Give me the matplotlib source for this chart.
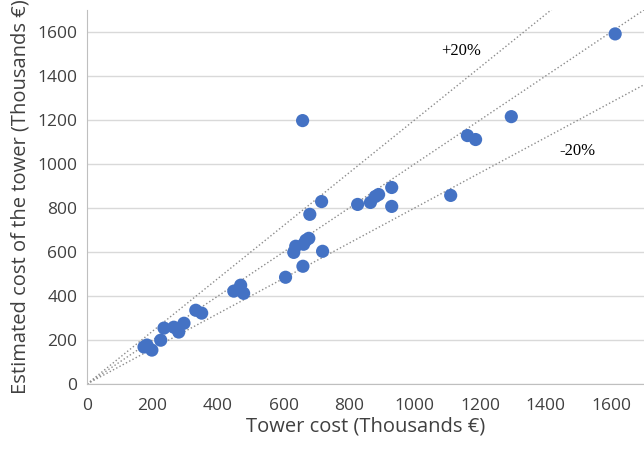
import matplotlib.pyplot as plt
import numpy as np

# Tower cost vs estimated cost (thousands of euros)
real = [174, 183, 198, 225, 235, 265, 280, 296, 332, 350, 448, 469, 478,
        606, 631, 637, 661, 668, 677, 659, 719, 680, 716, 826, 865, 880,
        890, 930, 930, 1110, 1161, 1186, 1295, 1612, 658]
estimated = [168, 177, 154, 199, 254, 258, 236, 276, 335, 322, 422, 449, 412,
             485, 598, 626, 635, 653, 662, 535, 603, 771, 829, 816, 825, 852,
             861, 893, 807, 857, 1129, 1111, 1215, 1591, 1197]
band_factors = [1.2, 1.0, 0.8]
xticks = np.arange(0, 1601, 200)
yticks = np.arange(0, 1601, 200)

font = 'Open Sans'
txt = '#404040'

fig = plt.figure(figsize=(6.44, 4.51), dpi=100)
ax = fig.add_axes([0.1351, 0.1486, 0.8649, 0.8294])
ax.set_xlim(0, 1700)
ax.set_ylim(0, 1700)

xl = np.array([0, 1700])
for f in band_factors:
    ax.plot(xl, f * xl, color='#8c8c8c', linestyle=':', linewidth=1.0, zorder=2)

ax.scatter(real, estimated, s=90, color='#4472C4', edgecolors='none', zorder=3)

ax.set_xticks(xticks)
ax.set_yticks(yticks)
ax.yaxis.grid(True, color='#d9d9d9', linewidth=1.0)
ax.set_axisbelow(True)
for s in ['top', 'right']:
    ax.spines[s].set_visible(False)
for s in ['left', 'bottom']:
    ax.spines[s].set_color('#bfbfbf')
ax.tick_params(length=0, labelsize=12.5, colors=txt)
ax.tick_params(axis='x', pad=10)
ax.tick_params(axis='y', pad=7)
for lab in ax.get_xticklabels() + ax.get_yticklabels():
    lab.set_fontname(font)

ax.set_xlabel('Tower cost (Thousands €)', fontname=font, fontsize=14.5, color=txt, labelpad=2)
ax.set_ylabel('Estimated cost of the tower (Thousands €)', fontname=font, fontsize=14.5,
              color=txt, labelpad=5)

ax.text(1143, 1514, '+20%', fontname='Liberation Serif', fontsize=12, ha='center', va='center')
ax.text(1497, 1061, '-20%', fontname='Liberation Serif', fontsize=12, ha='center', va='center')

fig.savefig('out.png', dpi=100)
